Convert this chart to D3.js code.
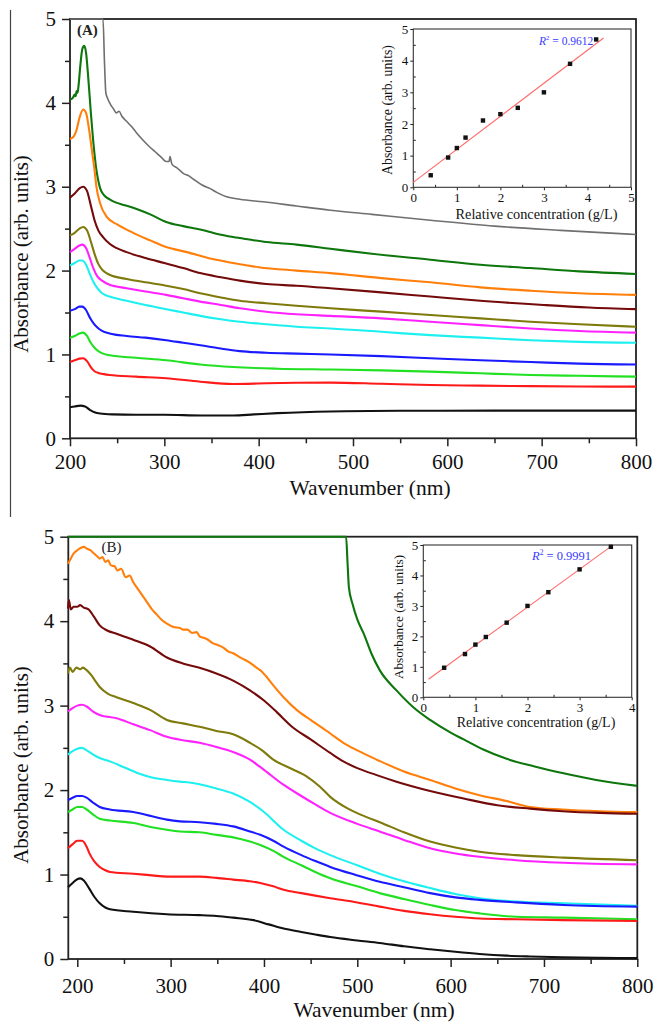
<!DOCTYPE html>
<html>
<head>
<meta charset="utf-8">
<script src="https://cdn.jsdelivr.net/npm/d3@7"></script>
<style>
  body { margin: 0; background: #fff; }
  svg { display: block; }
</style>
</head>
<body>
<svg id="fig" width="656" height="1023"></svg>
<script>
// ---------------- Panel (A) spectra: [wavelength nm, absorbance] ----------------
const a_gray = [[200,5],[235,5],[236.5,4.5],[238,4.12],[240,4.05],[243,3.98],[246,3.93],[249,3.88],[252,3.9],[255,3.84],[260,3.78],[265,3.72],[270,3.65],[277,3.56],[284,3.48],[290,3.42],[296,3.36],[302,3.3],[305,3.3],[306,3.36],[308,3.27],[314,3.22],[320,3.16],[326,3.13],[332,3.08],[340,3.02],[348,2.98],[356,2.93],[366,2.88],[380,2.85],[405,2.82],[440,2.77],[476,2.72],[520,2.67],[582,2.6],[650,2.53],[720,2.48],[800,2.43]];
const a_darkgreen = [[200,4.04],[203,4.06],[205,4.1],[206,4.08],[207,4.14],[208,4.12],[209,4.2],[211,4.45],[213,4.64],[215,4.68],[217,4.6],[219,4.35],[222,3.9],[225,3.5],[228,3.2],[232,2.98],[236,2.9],[242,2.85],[249,2.81],[258,2.78],[267,2.75],[285,2.67],[302,2.58],[320,2.53],[338,2.49],[355,2.44],[373,2.4],[390,2.37],[408,2.34],[440,2.31],[476,2.26],[520,2.2],[582,2.13],[635,2.07],[688,2.03],[740,1.99],[800,1.96]];
const a_orange = [[200,3.57],[204,3.6],[207,3.68],[210,3.82],[214,3.92],[217,3.88],[220,3.7],[223,3.45],[226,3.2],[228,3.0],[232,2.8],[239,2.64],[250,2.55],[267,2.45],[285,2.36],[302,2.28],[324,2.22],[350,2.14],[373,2.09],[400,2.04],[440,2.0],[476,1.97],[530,1.91],[582,1.86],[635,1.8],[688,1.76],[740,1.73],[800,1.71]];
const a_maroon = [[200,2.87],[205,2.92],[210,2.98],[214,3.0],[218,2.95],[222,2.78],[226,2.6],[230,2.48],[235,2.4],[242,2.32],[249,2.27],[260,2.22],[280,2.15],[300,2.09],[320,2.03],[338,1.97],[360,1.92],[380,1.88],[408,1.84],[440,1.82],[476,1.79],[530,1.74],[582,1.69],[635,1.64],[702,1.59],[750,1.56],[800,1.54]];
const a_olive = [[200,2.42],[205,2.45],[210,2.5],[214,2.52],[218,2.48],[222,2.35],[226,2.2],[230,2.08],[235,2.0],[242,1.95],[260,1.9],[280,1.86],[302,1.82],[320,1.78],[338,1.73],[360,1.68],[380,1.64],[408,1.61],[440,1.58],[476,1.55],[530,1.51],[582,1.47],[635,1.43],[688,1.39],[740,1.36],[800,1.33]];
const a_magenta = [[200,2.22],[205,2.26],[210,2.3],[213,2.31],[217,2.27],[221,2.15],[225,2.02],[229,1.93],[234,1.88],[242,1.83],[260,1.79],[280,1.75],[302,1.71],[320,1.67],[338,1.63],[360,1.59],[380,1.55],[408,1.51],[440,1.48],[476,1.46],[530,1.43],[582,1.39],[635,1.35],[688,1.31],[740,1.28],[800,1.26]];
const a_cyan = [[200,2.06],[205,2.09],[210,2.12],[213,2.12],[217,2.07],[221,1.96],[225,1.86],[229,1.79],[234,1.73],[242,1.69],[260,1.64],[280,1.59],[302,1.54],[320,1.5],[338,1.46],[360,1.42],[380,1.39],[408,1.36],[440,1.33],[476,1.31],[530,1.27],[582,1.23],[635,1.2],[688,1.17],[740,1.15],[800,1.14]];
const a_blue = [[200,1.52],[205,1.54],[210,1.57],[213,1.57],[217,1.53],[221,1.44],[225,1.37],[229,1.32],[234,1.28],[242,1.25],[260,1.22],[280,1.2],[302,1.17],[320,1.14],[338,1.11],[360,1.07],[380,1.04],[408,1.02],[440,1.01],[476,1.0],[530,0.98],[582,0.955],[635,0.93],[688,0.91],[740,0.89],[800,0.88]];
const a_green = [[200,1.2],[205,1.22],[210,1.25],[214,1.26],[218,1.22],[222,1.14],[226,1.08],[230,1.04],[235,1.01],[242,0.99],[270,0.96],[302,0.93],[338,0.88],[373,0.85],[420,0.83],[476,0.82],[530,0.81],[582,0.795],[635,0.775],[688,0.755],[740,0.745],[800,0.735]];
const a_red = [[200,0.91],[205,0.93],[210,0.95],[214,0.955],[218,0.92],[222,0.85],[226,0.8],[230,0.78],[236,0.765],[242,0.755],[270,0.735],[302,0.716],[338,0.675],[373,0.648],[408,0.656],[440,0.662],[476,0.664],[530,0.65],[582,0.636],[635,0.628],[688,0.622],[740,0.618],[800,0.616]];
const a_black = [[200,0.37],[205,0.38],[211,0.39],[216,0.38],[221,0.34],[226,0.31],[232,0.295],[245,0.285],[270,0.28],[300,0.28],[340,0.272],[373,0.272],[395,0.285],[420,0.30],[476,0.32],[550,0.328],[650,0.33],[800,0.33]];

// ---------------- Panel (B) spectra ----------------
const b_darkgreen = [[190,5],[488,5],[489.5,4.7],[491,4.4],[495,4.2],[500,4.02],[507,3.85],[515,3.62],[524,3.42],[542,3.18],[560,2.98],[578,2.83],[600,2.68],[614,2.6],[635,2.48],[660,2.37],[690,2.28],[721,2.2],[756,2.12],[800,2.05]];
const b_orange = [[190,4.68],[192,4.72],[196,4.8],[200,4.84],[204,4.87],[207,4.88],[210,4.86],[214,4.84],[218,4.8],[222,4.76],[224,4.74],[227,4.76],[230,4.7],[233,4.72],[236,4.66],[240,4.65],[243,4.6],[247,4.62],[252,4.52],[256,4.54],[260,4.46],[265,4.38],[270,4.3],[275,4.22],[280,4.14],[285,4.08],[290,4.02],[296,3.97],[303,3.93],[310,3.92],[313,3.9],[318,3.9],[323,3.86],[328,3.87],[331,3.82],[336,3.8],[340,3.78],[345,3.74],[350,3.72],[356,3.69],[362,3.64],[367,3.62],[373,3.58],[380,3.54],[386,3.5],[392,3.45],[396,3.42],[402,3.35],[410,3.24],[421,3.1],[435,2.95],[450,2.83],[471,2.67],[485,2.56],[500,2.47],[521,2.36],[550,2.22],[578,2.12],[605,2.02],[631,1.94],[660,1.87],[685,1.8],[720,1.77],[760,1.75],[800,1.74]];
const b_maroon = [[190,4.15],[191,4.25],[193,4.14],[196,4.17],[200,4.17],[203,4.19],[207,4.16],[212,4.14],[218,4.05],[224,3.95],[232,3.89],[242,3.85],[260,3.78],[278,3.7],[296,3.57],[313,3.5],[330,3.45],[349,3.38],[368,3.29],[385,3.18],[400,3.06],[414,2.92],[430,2.75],[450,2.6],[471,2.44],[485,2.34],[500,2.26],[520,2.18],[542,2.1],[578,1.99],[614,1.9],[650,1.82],[685,1.78],[720,1.75],[760,1.73],[800,1.72]];
const b_olive = [[190,3.38],[192,3.45],[195,3.4],[199,3.45],[203,3.43],[206,3.45],[210,3.42],[215,3.36],[220,3.28],[224,3.22],[233,3.14],[242,3.1],[260,3.03],[278,2.95],[296,2.83],[313,2.79],[331,2.75],[349,2.7],[367,2.66],[385,2.56],[398,2.47],[410,2.36],[430,2.25],[446,2.16],[460,2.04],[471,1.92],[490,1.78],[510,1.68],[524,1.62],[550,1.5],[578,1.39],[605,1.32],[631,1.27],[670,1.23],[721,1.2],[800,1.17]];
const b_magenta = [[190,2.93],[195,2.97],[200,3.0],[205,3.01],[210,2.99],[217,2.93],[224,2.89],[242,2.85],[260,2.78],[278,2.71],[296,2.63],[313,2.59],[331,2.56],[349,2.51],[367,2.45],[385,2.36],[400,2.24],[420,2.07],[440,1.93],[455,1.83],[471,1.73],[500,1.6],[524,1.51],[550,1.41],[578,1.31],[605,1.25],[631,1.21],[670,1.17],[721,1.14],[800,1.12]];
const b_cyan = [[190,2.42],[195,2.46],[200,2.49],[205,2.5],[210,2.47],[217,2.42],[224,2.38],[235,2.34],[250,2.27],[265,2.2],[280,2.15],[296,2.12],[310,2.1],[320,2.09],[331,2.07],[349,2.02],[367,1.96],[385,1.86],[400,1.74],[421,1.53],[440,1.4],[455,1.31],[471,1.23],[500,1.11],[524,1.01],[550,0.92],[578,0.84],[605,0.77],[631,0.72],[670,0.68],[721,0.66],[800,0.63]];
const b_blue = [[190,1.88],[195,1.91],[200,1.93],[205,1.93],[210,1.91],[217,1.85],[224,1.8],[235,1.77],[260,1.74],[280,1.69],[296,1.65],[310,1.63],[331,1.62],[349,1.6],[367,1.57],[385,1.51],[396,1.47],[410,1.4],[421,1.33],[440,1.23],[455,1.16],[471,1.09],[500,0.99],[524,0.915],[550,0.85],[578,0.78],[605,0.73],[631,0.7],[670,0.67],[721,0.64],[800,0.62]];
const b_green = [[190,1.74],[195,1.77],[200,1.8],[205,1.8],[210,1.77],[217,1.71],[224,1.66],[235,1.64],[260,1.61],[280,1.56],[296,1.53],[310,1.51],[331,1.5],[349,1.47],[367,1.44],[385,1.39],[396,1.35],[410,1.28],[421,1.21],[440,1.11],[455,1.03],[471,0.955],[500,0.86],[524,0.78],[550,0.71],[578,0.64],[605,0.58],[631,0.54],[670,0.5],[721,0.49],[800,0.47]];
const b_red = [[190,1.31],[195,1.36],[200,1.4],[205,1.4],[210,1.33],[213,1.25],[218,1.16],[224,1.09],[230,1.05],[235,1.03],[260,1.01],[280,0.99],[296,0.975],[331,0.975],[349,0.96],[367,0.94],[385,0.92],[396,0.9],[410,0.86],[421,0.82],[440,0.78],[455,0.75],[471,0.72],[500,0.67],[524,0.62],[550,0.57],[578,0.53],[605,0.5],[631,0.48],[670,0.47],[721,0.46],[800,0.45]];
const b_black = [[190,0.85],[195,0.9],[200,0.945],[203,0.955],[207,0.93],[213,0.83],[218,0.74],[224,0.66],[230,0.61],[235,0.59],[260,0.56],[296,0.53],[331,0.52],[349,0.51],[367,0.49],[389,0.46],[405,0.41],[421,0.36],[440,0.32],[455,0.29],[471,0.26],[500,0.22],[524,0.19],[550,0.15],[578,0.115],[605,0.085],[631,0.06],[660,0.04],[685,0.03],[720,0.02],[760,0.015],[800,0.01]];

// ---------------- Calibration insets ----------------
const concA = [0.4, 0.8, 1.0, 1.2, 1.6, 2.0, 2.4, 3.0, 3.6, 4.2];
const absA  = [0.38, 0.94, 1.24, 1.57, 2.11, 2.31, 2.51, 3.0, 3.9, 4.67];
const concB = [0.4, 0.8, 1.0, 1.2, 1.6, 2.0, 2.4, 3.0, 3.6];
const absB  = [0.97, 1.42, 1.73, 1.98, 2.45, 3.0, 3.45, 4.2, 4.94];
const fitSpanA = [0, 4.37];
const fitSpanB = [0.1, 3.65];
const r2A = "0.9612";
const r2B = "0.9991";

// ---------------- Axis ticks / labels ----------------
const wlTicks = [200, 300, 400, 500, 600, 700, 800];
const wlMinor = [250, 350, 450, 550, 650, 750];
const absTicks = [0, 1, 2, 3, 4, 5];
const absMinor = [0.5, 1.5, 2.5, 3.5, 4.5];
const insetXTicksA = [0, 1, 2, 3, 4, 5];
const insetXTicksB = [0, 1, 2, 3, 4];
const insetXMinorA = [0.5, 1.5, 2.5, 3.5, 4.5];
const insetXMinorB = [0.5, 1.5, 2.5, 3.5];
const xTitle = "Wavenumber (nm)";
const yTitle = "Absorbance (arb. units)";
const insetXTitle = "Relative concentration (g/L)";

const COLORS = {
  gray: "#6f6f6f", darkgreen: "#0d760d", orange: "#ff7f0a", maroon: "#740a0a",
  olive: "#7f7a0c", magenta: "#ff22ff", cyan: "#1ef0f0", blue: "#1a1aff",
  green: "#22e022", red: "#ff1a1a", black: "#111111"
};

const seriesA = [
  ["gray", a_gray], ["darkgreen", a_darkgreen], ["orange", a_orange], ["maroon", a_maroon],
  ["olive", a_olive], ["magenta", a_magenta], ["cyan", a_cyan], ["blue", a_blue],
  ["green", a_green], ["red", a_red], ["black", a_black]
];
const seriesB = [
  ["darkgreen", b_darkgreen], ["orange", b_orange], ["maroon", b_maroon], ["olive", b_olive],
  ["magenta", b_magenta], ["cyan", b_cyan], ["blue", b_blue], ["green", b_green],
  ["red", b_red], ["black", b_black]
];

const FONT = "'Liberation Serif', 'Times New Roman', serif";
const svg = d3.select("#fig");
svg.append("rect").attr("width", 656).attr("height", 1023).attr("fill", "#fff");

// thin figure border on the left of the upper panel
svg.append("line").attr("x1", 10.5).attr("x2", 10.5).attr("y1", 10).attr("y2", 517)
  .attr("stroke", "#444").attr("stroke-width", 1.2);

function styleAxis(g, fontSize) {
  g.select(".domain").remove();
  g.selectAll("line").attr("stroke", "#222").attr("stroke-width", 1.5);
  g.selectAll("text").attr("font-family", FONT).attr("font-size", fontSize).attr("fill", "#111");
}

function mainPanel(o) {
  const x = d3.scaleLinear().domain(o.xDomain).range([o.left, o.right]);
  const y = d3.scaleLinear().domain([0, 5]).range([o.bottom, o.top]);
  const g = svg.append("g");

  // minor ticks
  g.append("g").attr("transform", `translate(0,${o.bottom})`)
    .call(d3.axisBottom(x).tickValues(wlMinor).tickSize(5).tickFormat(""))
    .call(s => styleAxis(s, 21));
  g.append("g").attr("transform", `translate(${o.left},0)`)
    .call(d3.axisLeft(y).tickValues(absMinor).tickSize(5).tickFormat(""))
    .call(s => styleAxis(s, 21));
  // major ticks
  g.append("g").attr("transform", `translate(0,${o.bottom})`)
    .call(d3.axisBottom(x).tickValues(wlTicks).tickSize(8).tickPadding(o.xPad).tickFormat(d3.format("d")))
    .call(s => styleAxis(s, 21));
  g.append("g").attr("transform", `translate(${o.left},0)`)
    .call(d3.axisLeft(y).tickValues(absTicks).tickSize(8).tickPadding(6).tickFormat(d3.format("d")))
    .call(s => styleAxis(s, 21));

  // frame
  g.append("rect").attr("x", o.left).attr("y", o.top)
    .attr("width", o.right - o.left).attr("height", o.bottom - o.top)
    .attr("fill", "none").attr("stroke", "#222").attr("stroke-width", 1.8);

  // spectra
  const line = d3.line().x(d => x(d[0])).y(d => y(d[1])).curve(d3.curveMonotoneX);
  g.append("g").selectAll("path").data(o.series).join("path")
    .attr("d", d => line(d[1]))
    .attr("fill", "none")
    .attr("stroke", d => COLORS[d[0]])
    .attr("stroke-width", d => d[0] === "gray" ? 1.6 : 2.1)
    .attr("stroke-linejoin", "round");

  // axis titles
  g.append("text").attr("x", o.xTitleX).attr("y", o.xTitleY).attr("text-anchor", "middle")
    .attr("font-family", FONT).attr("font-size", 21.5).attr("fill", "#111").text(xTitle);
  g.append("text").attr("transform", `translate(${o.yTitleX},${o.yTitleY}) rotate(-90)`)
    .attr("text-anchor", "middle").attr("font-family", FONT).attr("font-size", 21)
    .attr("fill", "#111").text(yTitle);

  // panel tag
  g.append("text").attr("x", o.tagX).attr("y", o.tagY)
    .attr("font-family", FONT).attr("font-size", 15).attr("font-weight", o.tagBold ? "bold" : "normal")
    .attr("fill", "#222").text(o.tag);
}

function inset(o) {
  const x = d3.scaleLinear().domain(o.xDomain).range([o.left, o.right]);
  const y = d3.scaleLinear().domain([0, 5]).range([o.bottom, o.top]);
  const g = svg.append("g");
  g.append("rect").attr("x", o.left).attr("y", o.top)
    .attr("width", o.right - o.left).attr("height", o.bottom - o.top)
    .attr("fill", "#fff");

  // minor ticks point inward
  g.append("g").attr("transform", `translate(0,${o.bottom})`)
    .call(d3.axisTop(x).tickValues(o.xMinor).tickSize(2.5).tickFormat(""))
    .call(s => styleAxis(s, 13));
  g.append("g").attr("transform", `translate(${o.left},0)`)
    .call(d3.axisRight(y).tickValues(absMinor).tickSize(2.5).tickFormat(""))
    .call(s => styleAxis(s, 13));
  g.append("g").attr("transform", `translate(0,${o.bottom})`)
    .call(d3.axisBottom(x).tickValues(o.xTicks).tickSize(3).tickPadding(2).tickFormat(d3.format("d")))
    .call(s => styleAxis(s, 13));
  g.append("g").attr("transform", `translate(${o.left},0)`)
    .call(d3.axisLeft(y).tickValues(absTicks).tickSize(3).tickPadding(2).tickFormat(d3.format("d")))
    .call(s => styleAxis(s, 13));
  g.selectAll("line").attr("stroke-width", 1);

  g.append("rect").attr("x", o.left).attr("y", o.top)
    .attr("width", o.right - o.left).attr("height", o.bottom - o.top)
    .attr("fill", "none").attr("stroke", "#333").attr("stroke-width", 1.1);

  // least-squares fit of the calibration points
  const n = o.conc.length;
  const mx = d3.mean(o.conc), my = d3.mean(o.abs);
  let sxy = 0, sxx = 0;
  for (let i = 0; i < n; i++) {
    sxy += (o.conc[i] - mx) * (o.abs[i] - my);
    sxx += (o.conc[i] - mx) ** 2;
  }
  const slope = sxy / sxx, icpt = my - slope * mx;
  g.append("line")
    .attr("x1", x(o.fitSpan[0])).attr("y1", y(icpt + slope * o.fitSpan[0]))
    .attr("x2", x(o.fitSpan[1])).attr("y2", y(icpt + slope * o.fitSpan[1]))
    .attr("stroke", "#ff6a6a").attr("stroke-width", 1.1);

  g.append("g").selectAll("rect").data(o.conc.map((c, i) => [c, o.abs[i]])).join("rect")
    .attr("x", d => x(d[0]) - 2.2).attr("y", d => y(d[1]) - 2.2)
    .attr("width", 4.4).attr("height", 4.4).attr("fill", "#111");

  // R² annotation
  const t = g.append("text").attr("x", o.r2X).attr("y", o.r2Y)
    .attr("font-family", FONT).attr("font-size", o.r2Size).attr("fill", "#3a3aff");
  t.append("tspan").attr("font-style", "italic").text("R");
  t.append("tspan").attr("dy", -o.r2Size * 0.4).attr("font-size", o.r2Size * 0.6).text("2");
  t.append("tspan").attr("dy", o.r2Size * 0.4).text(" = " + o.r2);

  g.append("text").attr("x", o.xTitleX).attr("y", o.xTitleY).attr("text-anchor", "middle")
    .attr("font-family", FONT).attr("font-size", o.xTitleSize).attr("fill", "#111").text(insetXTitle);
  g.append("text").attr("transform", `translate(${o.yTitleX},${o.yTitleY}) rotate(-90)`)
    .attr("text-anchor", "middle").attr("font-family", FONT).attr("font-size", o.yTitleSize)
    .attr("fill", "#111").text(yTitle);
}

mainPanel({
  left: 70, right: 636, top: 19, bottom: 438.3, xDomain: [200, 800], xPad: 8,
  series: seriesA, xTitleX: 370, xTitleY: 495, yTitleX: 28, yTitleY: 254,
  tag: "(A)", tagX: 77, tagY: 35, tagBold: true
});
mainPanel({
  left: 68.3, right: 637.3, top: 536.7, bottom: 959, xDomain: [190.36, 800], xPad: 11,
  series: seriesB, xTitleX: 374, xTitleY: 1017, yTitleX: 28, yTitleY: 765,
  tag: "(B)", tagX: 101.5, tagY: 552, tagBold: false
});

inset({
  left: 413.3, right: 631, top: 29, bottom: 187.3, xDomain: [0, 5],
  xTicks: insetXTicksA, xMinor: insetXMinorA, conc: concA, abs: absA, fitSpan: fitSpanA,
  r2: r2A, r2X: 539, r2Y: 44.5, r2Size: 11.5,
  xTitleX: 536.5, xTitleY: 218.5, xTitleSize: 14.3, yTitleX: 392, yTitleY: 110, yTitleSize: 13.8
});
inset({
  left: 423.3, right: 631.7, top: 545, bottom: 697.3, xDomain: [0, 4],
  xTicks: insetXTicksB, xMinor: insetXMinorB, conc: concB, abs: absB, fitSpan: fitSpanB,
  r2: r2B, r2X: 532, r2Y: 560, r2Size: 12.5,
  xTitleX: 536, xTitleY: 727, xTitleSize: 14, yTitleX: 403, yTitleY: 617, yTitleSize: 13.2
});
</script>
</body>
</html>
